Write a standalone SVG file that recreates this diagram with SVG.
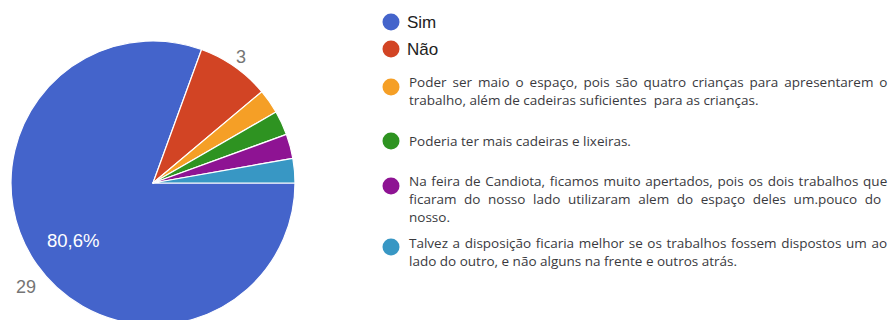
<svg xmlns="http://www.w3.org/2000/svg" width="890" height="320" viewBox="0 0 890 320">
<style>
.sl{stroke:#fff;stroke-width:1.2;stroke-linejoin:round}
.lab{font-family:"Liberation Sans",Arial,sans-serif;font-size:18px;fill:#757575}
.pct{font-family:"Liberation Sans",Arial,sans-serif;font-size:18.5px;fill:#fff}
.lg{font-family:"Liberation Sans",Arial,sans-serif;font-size:17px;fill:#222}
.lt{font-family:"Open Sans","Noto Sans",sans-serif;font-size:13.5px;fill:#3a3a3e;white-space:pre}
</style>
<rect width="890" height="320" fill="#fff"/>
<g id="pie">
<path class="sl" fill="#4464cb" d="M153,183 L201.57,49.56 A142,142 0 1 0 295,183 Z"/>
<path class="sl" fill="#d24424" d="M153,183 L261.78,91.72 A142,142 0 0 0 201.57,49.56 Z"/>
<path class="sl" fill="#f59f26" d="M153,183 L275.98,112 A142,142 0 0 0 261.78,91.72 Z"/>
<path class="sl" fill="#2e9321" d="M153,183 L286.44,134.43 A142,142 0 0 0 275.98,112 Z"/>
<path class="sl" fill="#8e1393" d="M153,183 L292.84,158.34 A142,142 0 0 0 286.44,134.43 Z"/>
<path class="sl" fill="#3897c4" d="M153,183 L295,183 A142,142 0 0 0 292.84,158.34 Z"/>
<text class="pct" x="47" y="247">80,6%</text>
<text class="lab" x="236" y="63">3</text>
<text class="lab" x="16" y="293">29</text>
</g>
<g id="legend-sim"><circle cx="391" cy="22" r="8.5" fill="#4464cb"/><text class="lg" x="407" y="28">Sim</text></g>
<g id="legend-nao"><circle cx="391" cy="49" r="8.5" fill="#d24424"/><text class="lg" x="407" y="55">Não</text></g>
<g id="legend-1"><circle cx="391" cy="87" r="8.5" fill="#f59f26"/>
<text class="lt" x="409" y="87" word-spacing="2.45">Poder ser maio o espaço, pois são quatro crianças para apresentarem o</text>
<text class="lt" x="409" y="105">trabalho, além de cadeiras suficientes  para as crianças.</text></g>
<g id="legend-2"><circle cx="391" cy="141" r="8.5" fill="#2e9321"/>
<text class="lt" x="409" y="146">Poderia ter mais cadeiras e lixeiras.</text></g>
<g id="legend-3"><circle cx="391" cy="186" r="8.5" fill="#8e1393"/>
<text class="lt" x="409" y="186" word-spacing="1.2">Na feira de Candiota, ficamos muito apertados, pois os dois trabalhos que</text>
<text class="lt" x="409" y="204" word-spacing="4.1">ficaram do nosso lado utilizaram alem do espaço deles um.pouco do</text>
<text class="lt" x="409" y="222">nosso.</text></g>
<g id="legend-4"><circle cx="391" cy="247" r="8.5" fill="#3897c4"/>
<text class="lt" x="409" y="248" word-spacing="1.1">Talvez a disposição ficaria melhor se os trabalhos fossem dispostos um ao</text>
<text class="lt" x="409" y="266">lado do outro, e não alguns na frente e outros atrás.</text></g>
</svg>
